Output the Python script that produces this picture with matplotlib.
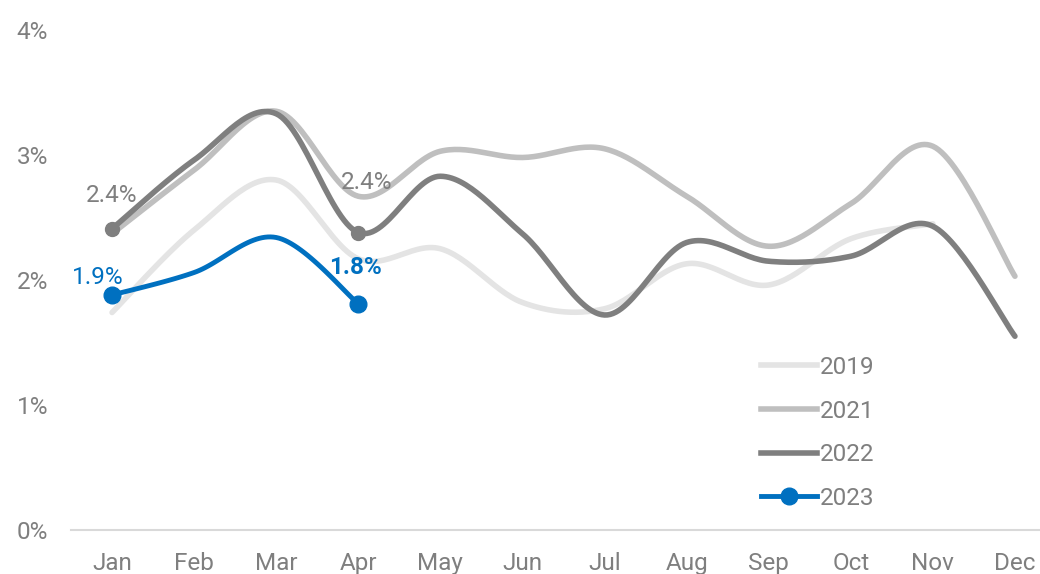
import numpy as np
import matplotlib
matplotlib.use("Agg")
import matplotlib.pyplot as plt
from matplotlib.lines import Line2D

plt.rcParams['font.family'] = ['Roboto', 'DejaVu Sans']

# data
months = ['Jan', 'Feb', 'Mar', 'Apr', 'May', 'Jun', 'Jul', 'Aug', 'Sep', 'Oct', 'Nov', 'Dec']
y2019 = [1.74, 2.40, 2.80, 2.17, 2.25, 1.82, 1.77, 2.13, 1.96, 2.33, 2.45]
y2021 = [2.37, 2.88, 3.35, 2.67, 3.03, 2.98, 3.05, 2.67, 2.27, 2.61, 3.07, 2.03]
y2022 = [2.41, 2.96, 3.33, 2.38, 2.83, 2.37, 1.72, 2.30, 2.15, 2.19, 2.43, 1.55]
y2023 = [1.88, 2.06, 2.34, 1.81]

grey_txt = '#7f7f7f'
c2019, c2021, c2022, c2023 = '#e4e4e4', '#bfbfbf', '#7f7f7f', '#0070c0'
fs = 17.5


def smooth(vals, n=30):
    # Excel-style smoothed line (Catmull-Rom bezier)
    x = np.arange(len(vals), dtype=float)
    y = np.asarray(vals, dtype=float)
    px = np.concatenate([[x[0]], x, [x[-1]]])
    py = np.concatenate([[y[0]], y, [y[-1]]])
    xs, ys = [], []
    t = np.linspace(0, 1, n)
    for i in range(len(x) - 1):
        p0 = np.array([px[i + 1], py[i + 1]])
        p3 = np.array([px[i + 2], py[i + 2]])
        p1 = p0 + (p3 - np.array([px[i], py[i]])) / 6
        p2 = p3 - (np.array([px[i + 3], py[i + 3]]) - p0) / 6
        b = ((1 - t) ** 3)[:, None] * p0 + (3 * (1 - t) ** 2 * t)[:, None] * p1 \
            + (3 * (1 - t) * t ** 2)[:, None] * p2 + (t ** 3)[:, None] * p3
        xs.append(b[:, 0])
        ys.append(b[:, 1])
    return np.concatenate(xs), np.concatenate(ys)


fig = plt.figure(figsize=(10.4, 5.74), dpi=100)
ax = fig.add_axes([71 / 1040, 1 - 530 / 574, 985 / 1040, 500 / 574])

for vals, col, lw, z in [(y2019, c2019, 4.0, 1), (y2021, c2021, 4.0, 2),
                         (y2022, c2022, 4.0, 3), (y2023, c2023, 3.5, 4)]:
    sx, sy = smooth(vals)
    ax.plot(sx, sy, color=col, lw=lw, solid_capstyle='round', zorder=z)

# markers on labelled points
ax.plot([0, 3], [y2022[0], y2022[3]], 'o', color=c2022, ms=10, zorder=3.5)
ax.plot([0, 3], [y2023[0], y2023[3]], 'o', color=c2023, ms=12, zorder=4.5)

# data labels
ax.text(0, y2022[0] + 0.27, f'{y2022[0]:.1f}%', color=grey_txt, fontsize=fs,
        ha='center', va='center', zorder=5)
ax.text(3.1, y2022[3] + 0.4, f'{y2022[3]:.1f}%', color=grey_txt, fontsize=fs,
        ha='center', va='center', zorder=5)
ax.text(-0.17, y2023[0] + 0.14, f'{y2023[0]:.1f}%', color=c2023, fontsize=fs,
        ha='center', va='center', zorder=5)
ax.text(2.97, y2023[3] + 0.29, f'{y2023[3]:.1f}%', color=c2023, fontsize=fs,
        fontweight='bold', ha='center', va='center', zorder=5)

ax.set_xlim(-0.5, 11.5)
ax.set_ylim(0, 4)
ax.set_xticks(range(len(months)))
ax.set_xticklabels(months)
ax.set_yticks([0, 1, 2, 3, 4])
ax.set_yticklabels(['0%', '1%', '2%', '3%', '4%'])
ax.tick_params(axis='both', length=0, labelsize=fs, labelcolor=grey_txt)
ax.tick_params(axis='x', pad=16)
ax.tick_params(axis='y', pad=16.5)
for s in ['top', 'right', 'left']:
    ax.spines[s].set_visible(False)
ax.spines['bottom'].set_color('#d9d9d9')
ax.spines['bottom'].set_linewidth(1.5)

handles = [
    Line2D([], [], color=c2019, lw=4.0),
    Line2D([], [], color=c2021, lw=4.0),
    Line2D([], [], color=c2022, lw=4.0),
    Line2D([], [], color=c2023, lw=3.5, marker='o', ms=12),
]
leg = fig.legend(handles, ['2019', '2021', '2022', '2023'], loc='upper left',
                 bbox_to_anchor=(761 / 1040, 1 - 356 / 574), frameon=False,
                 fontsize=fs, handlelength=2.3, handletextpad=0.12,
                 labelspacing=0.85, borderpad=0, borderaxespad=0)
for t in leg.get_texts():
    t.set_color(grey_txt)

fig.savefig('out.png', dpi=100)
